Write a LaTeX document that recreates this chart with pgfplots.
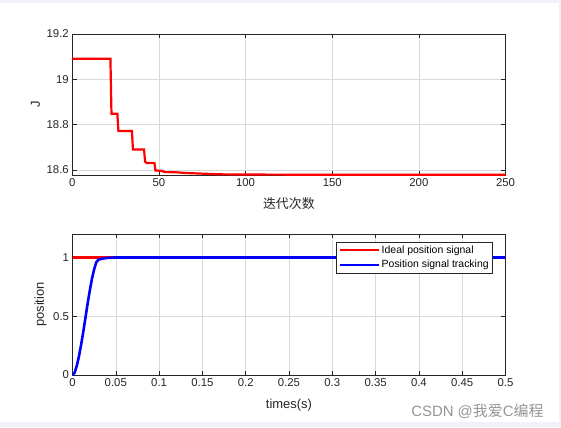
\documentclass[border=0pt]{standalone}
\usepackage{pgfplots}
\pgfplotsset{compat=1.18}
\usepackage{fontspec}
\setmainfont{Liberation Sans}
\newfontfamily\cjk{Noto Sans CJK SC}
\definecolor{axgray}{RGB}{38,38,38}
\definecolor{framec}{RGB}{239,243,249}
\definecolor{wmark}{RGB}{150,150,150}
\pgfplotsset{mstyle/.style={
  scale only axis,
  axis line style={axgray, line width=0.5bp},
  tick style={axgray, line width=0.5bp},
  major tick length=4.3bp, tick align=inside,
  grid=major, grid style={line width=0.5bp, black!15},
  /pgf/number format/assume math mode=true,
  ticklabel style={font=\fontsize{11.4}{13}\selectfont, text=axgray},
  label style={font=\fontsize{13}{15}\selectfont, text=axgray},
  scaled ticks=false,
}}
\begin{document}
\begin{tikzpicture}[x=1bp,y=1bp]
\fill[white] (0,0) rectangle (561,427);
\fill[framec] (0,424.3) rectangle (561,427);
\fill[framec] (558.7,0) rectangle (561,427);
\fill[framec] (0,0) rectangle (561,4.7);
\begin{axis}[mstyle,
  at={(72.3bp,252bp)}, anchor=south west,
  width=433.2bp, height=141bp,
  xmin=0, xmax=250, ymin=18.577, ymax=19.2,
  xtick={0,50,100,150,200,250},
  ytick={18.6,18.8,19,19.2},
  yticklabels={18.6,18.8,19,19.2},
  xlabel={\cjk 迭代次数}, ylabel={J},
  xlabel style={at={(axis description cs:0.5,-0.206)}, anchor=center},
  ylabel style={at={(axis description cs:-0.085,0.5)}, anchor=center},
]
\addplot[red, line width=2.2bp] coordinates {
(0,19.091) (22,19.091) (22.6,18.848) (26,18.848) (26.6,18.771) (34.4,18.771)
(35,18.690) (41.4,18.690) (42,18.636) (43,18.630) (47.4,18.630) (48,18.597)
(52,18.595) (53,18.590) (60,18.589) (65,18.586) (75,18.583) (85,18.580)
(100,18.579) (150,18.578) (250,18.578)};
\end{axis}
\begin{axis}[mstyle,
  at={(72.5bp,52bp)}, anchor=south west,
  width=433bp, height=141bp,
  xmin=0, xmax=0.5, ymin=0, ymax=1.2,
  xtick={0,0.05,0.1,0.15,0.2,0.25,0.3,0.35,0.4,0.45,0.5},
  xticklabels={0,0.05,0.1,0.15,0.2,0.25,0.3,0.35,0.4,0.45,0.5},
  ytick={0,0.5,1},
  yticklabels={0,0.5,1},
  xlabel={times(s)}, ylabel={position},
  xlabel style={at={(axis description cs:0.5,-0.213)}, anchor=center},
  ylabel style={at={(axis description cs:-0.074,0.5)}, anchor=center},
  legend style={at={(0.971,0.943)}, anchor=north east,
    font=\fontsize{10.5}{12}\selectfont, draw=axgray, line width=0.5bp,
    inner xsep=2bp, inner ysep=1.5bp, row sep=1.5bp},
  legend cell align=left,
  legend image code/.code={\draw[#1, line width=2.2bp] (0bp,0bp) -- (39bp,0bp);},
]
\addplot[red, line width=2.2bp] coordinates {(0,1) (0.5,1)};
\addlegendentry{Ideal position signal}
\addplot[blue, line width=2.6bp] coordinates {
(0,0) (0.0025,0.02) (0.005,0.08) (0.0075,0.16) (0.01,0.26) (0.0125,0.37)
(0.015,0.49) (0.0175,0.61) (0.02,0.72) (0.0225,0.82) (0.025,0.90)
(0.0275,0.96) (0.03,0.982) (0.035,0.991) (0.04,0.996) (0.05,1) (0.5,1)};
\addlegendentry{Position signal tracking}
\end{axis}
\node[anchor=east, text=wmark, font=\fontsize{15}{17}\selectfont] at (547,15.3)
  {CSDN @{\cjk 我爱}C{\cjk 编程}};
\end{tikzpicture}
\end{document}
